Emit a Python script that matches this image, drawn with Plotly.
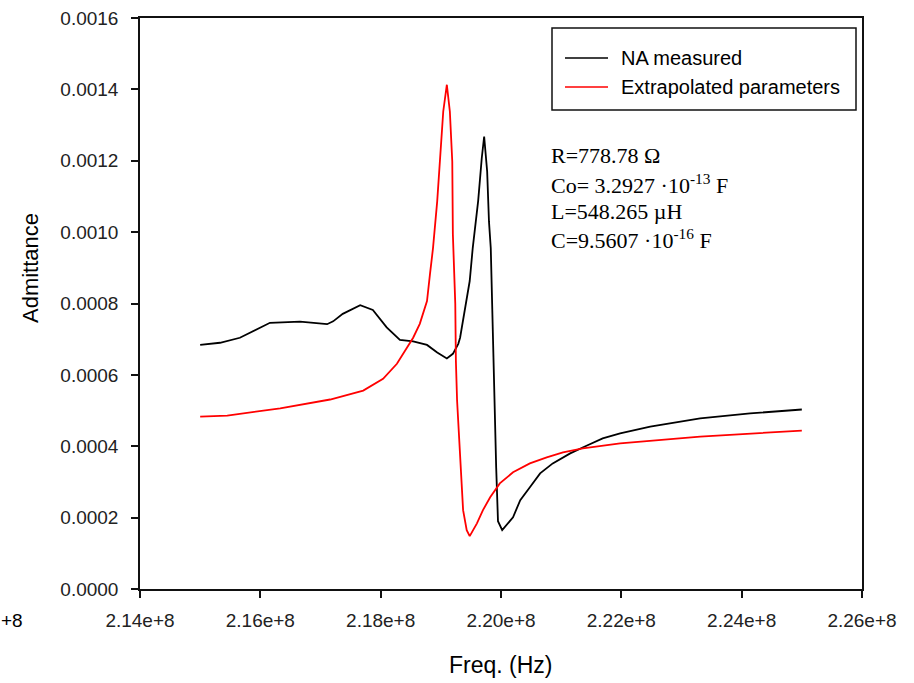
import plotly.graph_objects as go

# Measured admittance (network analyser) vs. frequency
freq_measured = [
    215.00e6, 215.33e6, 215.66e6, 215.99e6, 216.16e6, 216.66e6, 216.99e6, 217.11e6,
    217.21e6, 217.37e6, 217.66e6, 217.87e6, 218.10e6, 218.32e6, 218.54e6, 218.77e6,
    218.94e6, 219.10e6, 219.20e6, 219.29e6, 219.32e6, 219.43e6, 219.48e6, 219.53e6,
    219.62e6, 219.68e6, 219.72e6, 219.77e6, 219.80e6, 219.83e6, 219.86e6, 219.88e6,
    219.92e6, 219.95e6, 220.02e6, 220.20e6, 220.32e6, 220.48e6, 220.65e6, 220.86e6,
    221.15e6, 221.43e6, 221.69e6, 221.98e6, 222.48e6, 223.31e6, 224.14e6, 225.00e6,
]
adm_measured = [
    0.000684, 0.000690, 0.000704, 0.000733, 0.000746, 0.000749, 0.000745, 0.000742,
    0.000750, 0.000771, 0.000795, 0.000782, 0.000733, 0.000698, 0.000694, 0.000684,
    0.000663, 0.000646, 0.000659, 0.000687, 0.000704, 0.000807, 0.000863, 0.000955,
    0.001087, 0.001207, 0.001268, 0.001170, 0.001030, 0.000955, 0.000750, 0.000530,
    0.000340, 0.000190, 0.000165, 0.000201, 0.000249, 0.000285, 0.000324, 0.000352,
    0.000380, 0.000402, 0.000422, 0.000436, 0.000455, 0.000478, 0.000492, 0.000503,
]

# Admittance from the extrapolated equivalent-circuit parameters
freq_model = [
    215.00e6, 215.45e6, 216.33e6, 217.16e6, 217.71e6, 218.04e6, 218.27e6, 218.44e6,
    218.54e6, 218.65e6, 218.77e6, 218.82e6, 218.87e6, 218.94e6, 218.99e6, 219.04e6,
    219.10e6, 219.15e6, 219.19e6, 219.20e6, 219.24e6, 219.25e6, 219.27e6, 219.32e6,
    219.35e6, 219.37e6, 219.43e6, 219.48e6, 219.60e6, 219.70e6, 219.82e6, 219.98e6,
    220.20e6, 220.48e6, 220.76e6, 221.03e6, 221.36e6, 221.69e6, 221.98e6, 223.31e6,
    225.00e6,
]
adm_model = [
    0.000483, 0.000486, 0.000506, 0.000531, 0.000556, 0.000589, 0.000631, 0.000676,
    0.000704, 0.000743, 0.000807, 0.000883, 0.000955, 0.001087, 0.001226, 0.001338,
    0.001413, 0.001338, 0.001198, 0.000994, 0.000799, 0.000640, 0.000528, 0.000388,
    0.000296, 0.000221, 0.000165, 0.000148, 0.000184, 0.000221, 0.000257, 0.000296,
    0.000327, 0.000352, 0.000369, 0.000383, 0.000394, 0.000402, 0.000408, 0.000427,
    0.000444,
]

series_names = ["NA measured", "Extrapolated parameters"]
series_colors = ["#000000", "#ff0000"]

x_tickvals = [2.14e8, 2.16e8, 2.18e8, 2.20e8, 2.22e8, 2.24e8, 2.26e8]
x_ticktext = ["2.14e+8", "2.16e+8", "2.18e+8", "2.20e+8", "2.22e+8", "2.24e+8", "2.26e+8"]
y_tickvals = [0.0, 0.0002, 0.0004, 0.0006, 0.0008, 0.0010, 0.0012, 0.0014, 0.0016]
y_ticktext = ["0.0000", "0.0002", "0.0004", "0.0006", "0.0008",
              "0.0010", "0.0012", "0.0014", "0.0016"]

param_lines = [
    "R=778.78 \u03a9",
    "Co= 3.2927 \u00b710<sup>-13</sup> F",
    "L=548.265 \u00b5H",
    "C=9.5607 \u00b710<sup>-16</sup> F",
]

SANS = "Liberation Sans, Arial, sans-serif"
SERIF = "Liberation Serif, Times New Roman, serif"

fig = go.Figure()
fig.add_trace(go.Scatter(x=freq_measured, y=adm_measured, mode="lines",
                         name=series_names[0],
                         line=dict(color=series_colors[0], width=1.8)))
fig.add_trace(go.Scatter(x=freq_model, y=adm_model, mode="lines",
                         name=series_names[1],
                         line=dict(color=series_colors[1], width=1.8)))

# plot-area geometry in pixels
L, R, T, B = 140, 862, 18, 589
W, H = R - L, B - T


def px(xp):
    return (xp - L) / W


def py(yp):
    return (B - yp) / H


# hand-drawn legend box
shapes = [
    dict(type="rect", xref="paper", yref="paper",
         x0=px(552), x1=px(856), y0=py(110), y1=py(28),
         line=dict(color="#111111", width=1.5), fillcolor="white"),
]
annotations = []
for name, color, yp in zip(series_names, series_colors, [58, 87]):
    shapes.append(dict(type="line", xref="paper", yref="paper",
                       x0=px(565), x1=px(608), y0=py(yp), y1=py(yp),
                       line=dict(color=color, width=1.5)))
    annotations.append(dict(xref="paper", yref="paper", x=px(619), y=py(yp),
                            xanchor="left", yanchor="middle", showarrow=False,
                            text=name, font=dict(family=SANS, size=20, color="#000")))

# fitted equivalent-circuit parameters
for text, yp in zip(param_lines, [155, 184, 212, 239]):
    annotations.append(dict(xref="paper", yref="paper", x=px(549), y=py(yp),
                            xanchor="left", yanchor="middle", showarrow=False,
                            text=text, font=dict(family=SERIF, size=22, color="#000")))

annotations.append(dict(xref="paper", yref="paper", x=px(30), y=py(268),
                        xanchor="center", yanchor="middle", showarrow=False,
                        textangle=-90, text="Admittance",
                        font=dict(family=SANS, size=22, color="#000")))
annotations.append(dict(xref="paper", yref="paper", x=px(501), y=py(665),
                        xanchor="center", yanchor="middle", showarrow=False,
                        text="Freq. (Hz)",
                        font=dict(family=SANS, size=23, color="#000")))
annotations.append(dict(xref="paper", yref="paper", x=px(-1), y=py(620),
                        xanchor="left", yanchor="middle", showarrow=False,
                        text="+8", font=dict(family=SANS, size=19, color="#000")))

fig.update_layout(
    width=914, height=683,
    margin=dict(l=L, r=914 - R, t=T, b=683 - B),
    paper_bgcolor="white", plot_bgcolor="white",
    showlegend=False,
    shapes=shapes, annotations=annotations,
    font=dict(family=SANS, size=19, color="#000"),
)
axis_style = dict(showgrid=False, zeroline=False, showline=True, mirror=True,
                  linecolor="#111", linewidth=1.5, ticks="outside", ticklen=7,
                  tickwidth=1.5, tickcolor="#111", automargin=False,
                  tickfont=dict(family=SANS, size=19, color="#222"))
fig.update_xaxes(range=[2.14e8, 2.26e8], tickvals=x_tickvals, ticktext=x_ticktext,
                 ticklabelstandoff=6, **axis_style)
fig.update_yaxes(range=[0, 0.0016], tickvals=y_tickvals, ticktext=y_ticktext,
                 ticklabelstandoff=9, **axis_style)

fig.write_html("out.html")
